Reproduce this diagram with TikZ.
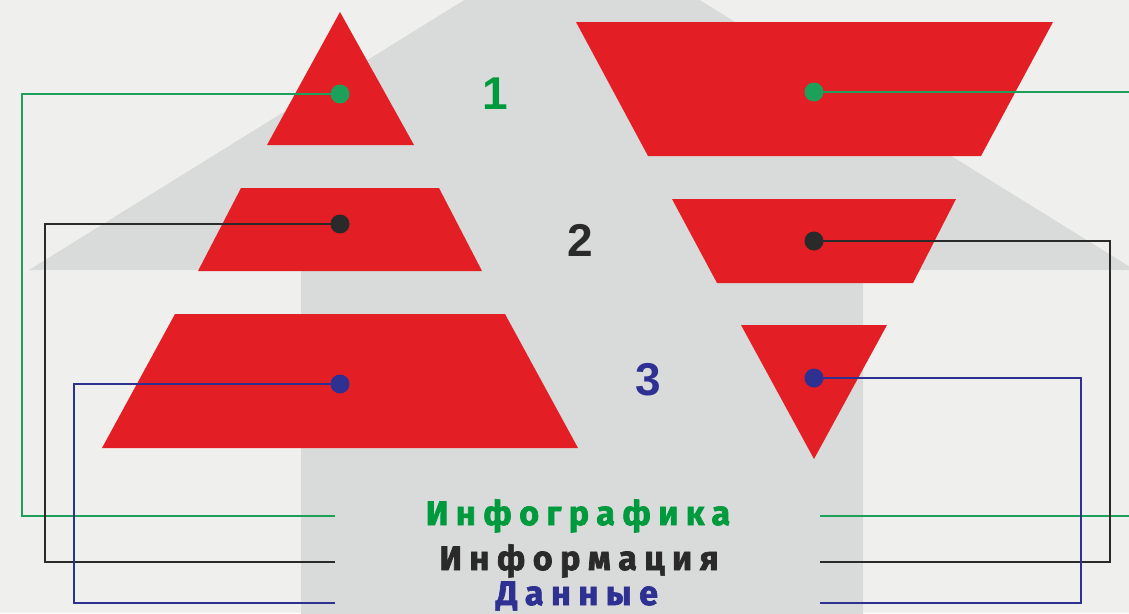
\documentclass[tikz,border=0pt]{standalone}
\usepackage{fontspec}
\setmainfont{Liberation Sans}
\newfontfamily\labfont[LetterSpace=22,BoldFeatures={FakeBold=2}]{Fira Sans}
\definecolor{bgc}{HTML}{EFF0ED}
\definecolor{arrowc}{HTML}{D9DBDA}
\definecolor{redc}{HTML}{E31E24}
\definecolor{greenc}{HTML}{1DA05A}
\definecolor{greent}{HTML}{009A3E}
\definecolor{darkc}{HTML}{2A2A2A}
\definecolor{bluec}{HTML}{2E3192}
\tikzset{
  shapefill/.style={fill=redc},
  dotnode/.style={circle,inner sep=0pt,minimum size=19pt,fill=#1},
  conn/.style={draw=#1,line width=2.8pt},
  numlabel/.style={font=\fontsize{46}{46}\selectfont\bfseries,text=#1,inner sep=0pt},
  wordlabel/.style={font=\labfont\bfseries\fontsize{34}{34}\selectfont,text=#1,inner sep=0pt,anchor=base}
}
\begin{document}
\begin{tikzpicture}[x=1pt,y=-1pt]
\useasboundingbox (0,0) rectangle (1129,613);
\clip (0,0) rectangle (1129,613);
\fill[bgc] (0,0) rectangle (1129,613);
% big arrow
\fill[arrowc] (582,-73) -- (1135,270) -- (863,270) -- (863,620) -- (301,620) -- (301,270) -- (29,270) -- cycle;
% left pyramid
\fill[shapefill] (340,12) -- (414,145) -- (267,145) -- cycle;
\fill[shapefill] (241,188) -- (439,188) -- (482,271) -- (198,271) -- cycle;
\fill[shapefill] (175,314) -- (505,314) -- (578,448) -- (102,448) -- cycle;
% right inverted pyramid
\fill[shapefill] (576,22) -- (1053,22) -- (981,156) -- (648,156) -- cycle;
\fill[shapefill] (672,199) -- (956,199) -- (913,283) -- (717,283) -- cycle;
\fill[shapefill] (741,325) -- (887,325) -- (814,459) -- cycle;
% numbers
\node[numlabel=greent] (n1) at (495,94) {1};
\node[numlabel=darkc] (n2) at (580,240) {2};
\node[numlabel=bluec] (n3) at (648,380) {3};
% words
\node[wordlabel=greent] (w1) at (578,525) {Инфографика};
\node[wordlabel=darkc] (w2) at (579,570) {Информация};
\node[wordlabel=bluec] (w3) at (577,605) {Данные};
% connector coordinates
\coordinate (gl1) at (22,94);   \coordinate (gl2) at (335,516);
\coordinate (kl1) at (45,224);  \coordinate (kl2) at (335,562);
\coordinate (bl1) at (74,384);  \coordinate (bl2) at (335,603);
\coordinate (gr1) at (1140,92); \coordinate (gr2) at (820,516);
\coordinate (kr1) at (1110,241); \coordinate (kr2) at (820,562);
\coordinate (br1) at (1081,378); \coordinate (br2) at (820,603);
% dots
\node[dotnode=greenc] (dgl) at (340,94) {};
\node[dotnode=darkc] (dkl) at (340,224) {};
\node[dotnode=bluec] (dbl) at (340,384) {};
\node[dotnode=greenc] (dgr) at (814,92) {};
\node[dotnode=darkc] (dkr) at (814,241) {};
\node[dotnode=bluec] (dbr) at (814,378) {};
% connectors
\draw[conn=greenc] (dgl.center) -- (gl1) |- (gl2);
\draw[conn=darkc] (dkl.center) -- (kl1) |- (kl2);
\draw[conn=bluec] (dbl.center) -- (bl1) |- (bl2);
\draw[conn=greenc] (dgr.center) -- (gr1) |- (gr2);
\draw[conn=darkc] (dkr.center) -- (kr1) |- (kr2);
\draw[conn=bluec] (dbr.center) -- (br1) |- (br2);
\end{tikzpicture}
\end{document}
